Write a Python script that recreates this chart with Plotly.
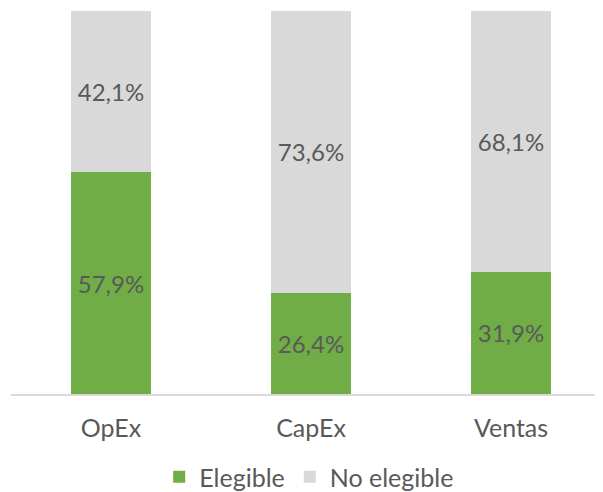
import plotly.graph_objects as go

categories = ["OpEx", "CapEx", "Ventas"]
elegible = [57.9, 26.4, 31.9]
no_elegible = [42.1, 73.6, 68.1]
series_names = ["Elegible", "No elegible"]

FONT = "Century Gothic, Lato, Open Sans, sans-serif"
TXT = "#595959"

fig = go.Figure()
fig.add_trace(go.Bar(
    x=categories, y=elegible, name=series_names[0],
    marker=dict(color="#70AD47", line=dict(width=0)),
    texttemplate="%{y:.1f}%", textposition="inside", insidetextanchor="middle",
    textfont=dict(color=TXT, size=24, family=FONT), width=0.404,
))
fig.add_trace(go.Bar(
    x=categories, y=no_elegible, name=series_names[1],
    marker=dict(color="#D9D9D9", line=dict(width=0)),
    texttemplate="%{y:.1f}%", textposition="inside", insidetextanchor="middle",
    textfont=dict(color=TXT, size=24, family=FONT), width=0.404,
))

fig.update_layout(
    barmode="stack",
    separators=",.",
    width=603, height=492,
    margin=dict(l=3, r=0, t=3, b=103),
    paper_bgcolor="white", plot_bgcolor="white",
    font=dict(family=FONT, color=TXT, size=24),
    uniformtext=dict(mode=False),
    showlegend=True,
    legend=dict(orientation="h", x=0.497, xanchor="center", y=-0.218, yanchor="middle",
                font=dict(size=25, color=TXT, family=FONT), itemwidth=30,
                traceorder="normal"),
    xaxis=dict(range=[-0.5, 2.5], showgrid=False, showline=True, linecolor="#D9D9D9",
               linewidth=2, ticks="", tickfont=dict(size=25, color=TXT, family=FONT),
               ticklabelstandoff=11),
    yaxis=dict(range=[0, 100], visible=False),
)

fig.write_html("out.html")
